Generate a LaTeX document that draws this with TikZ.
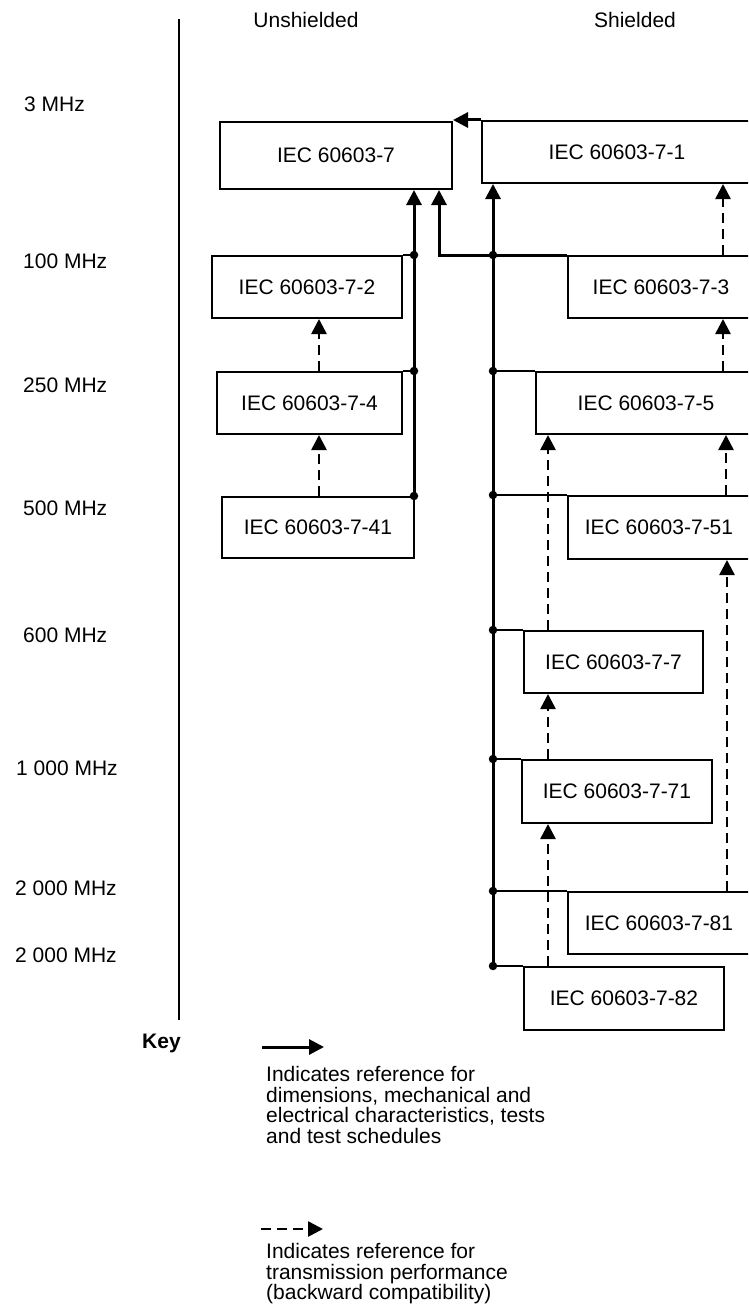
\documentclass[tikz,border=0pt]{standalone}
\usepackage{fontspec}
\setmainfont{Liberation Sans}
\usetikzlibrary{arrows.meta}
\begin{document}
\begin{tikzpicture}[x=1pt,y=-1pt,
  box/.style={draw, line width=2pt, inner sep=0pt, font=\fontsize{21}{24}\selectfont},
  lbl/.style={inner sep=0pt, font=\fontsize{21}{24}\selectfont, anchor=west},
  keytxt/.style={inner sep=0pt, font=\fontsize{21}{20.6}\selectfont, anchor=north west, align=left},
  sarr/.style={line width=3pt, -{Triangle[length=15pt,width=15pt]}},
  thin/.style={line width=2pt},
  darr/.style={line width=2.6pt, dash pattern=on 10pt off 6pt, -{Triangle[length=15pt,width=15pt]}},
  dot/.style={circle, fill, inner sep=0pt, minimum size=8.5pt},
]
\useasboundingbox (0,0) rectangle (748,1308);
\clip (0,0) rectangle (748,1308);

% axis
\coordinate (axtop) at (179,19);
\coordinate (axbot) at (179,1020);
\draw[line width=2pt] (axtop) -- (axbot);

% headers
\node[inner sep=0pt, font=\fontsize{21}{24}\selectfont] (hu) at (306,20) {Unshielded};
\node[inner sep=0pt, font=\fontsize{21}{24}\selectfont] (hs) at (635,20) {Shielded};

% frequency labels
\node[lbl] (f1) at (24,104) {3 MHz};
\node[lbl] (f2) at (23,261) {100 MHz};
\node[lbl] (f3) at (23,385) {250 MHz};
\node[lbl] (f4) at (23,508) {500 MHz};
\node[lbl] (f5) at (23,635) {600 MHz};
\node[lbl] (f6) at (16,768) {1 000 MHz};
\node[lbl] (f7) at (15,888) {2 000 MHz};
\node[lbl] (f8) at (15,955) {2 000 MHz};

% boxes
\node[box, minimum width=232pt, minimum height=67pt] (b7) at (336,155.5) {IEC 60603-7};
\node[box, minimum width=270pt, minimum height=62pt] (b71) at (617,152) {IEC 60603-7-1};
\node[box, minimum width=190pt, minimum height=62pt] (b72) at (307,287) {IEC 60603-7-2};
\node[box, minimum width=186pt, minimum height=62pt] (b73) at (661,287) {IEC 60603-7-3};
\node[box, minimum width=185pt, minimum height=62pt] (b74) at (309.5,403) {IEC 60603-7-4};
\node[box, minimum width=220pt, minimum height=62pt] (b75) at (646,403) {IEC 60603-7-5};
\node[box, minimum width=192pt, minimum height=61pt] (b741) at (318,527.5) {IEC 60603-7-41};
\node[box, minimum width=182pt, minimum height=63pt] (b751) at (659,527.5) {IEC 60603-7-51};
\node[box, minimum width=179pt, minimum height=62pt] (b77) at (613.5,662) {IEC 60603-7-7};
\node[box, minimum width=190pt, minimum height=63pt] (b771) at (617,791.5) {IEC 60603-7-71};
\node[box, minimum width=182pt, minimum height=62pt] (b781) at (659,923) {IEC 60603-7-81};
\node[box, minimum width=200pt, minimum height=63pt] (b782) at (624,998.5) {IEC 60603-7-82};

% column coordinates
\coordinate (xu) at (414,0);
\coordinate (xm) at (439,0);
\coordinate (xs) at (493,0);
\coordinate (xl) at (319,0);
\coordinate (xc) at (548,0);
\coordinate (xr1) at (723,0);
\coordinate (xr2) at (726,0);
\coordinate (xr3) at (727,0);

% junctions
\coordinate (u1) at (b72.north -| xu);
\coordinate (u2) at (b74.north -| xu);
\coordinate (u3) at (b741.north -| xu);
\coordinate (s1) at (b73.north -| xs);
\coordinate (s2) at (b75.north -| xs);
\coordinate (s3) at (b751.north -| xs);
\coordinate (s4) at (b77.north -| xs);
\coordinate (s5) at (b771.north -| xs);
\coordinate (s6) at (b781.north -| xs);
\coordinate (s7) at (b782.north -| xs);

% 7-1 -> 7
\draw[sarr] (b71.north west) -- (b71.north west -| b7.east);
% unshielded bus
\draw[sarr] (u3) -- (b7.south -| xu);
\draw[thin] (b72.north east) -- (u1);
\draw[thin] (b74.north east) -- (u2);
% 7-3 line to 7
\draw[sarr] (b73.north west) -| (b7.south -| xm);
% shielded bus
\draw[sarr] (s7) -- (b71.south -| xs);
\draw[thin] (b75.north west) -- (s2);
\draw[thin] (b751.north west) -- (s3);
\draw[thin] (b77.north west) -- (s4);
\draw[thin] (b771.north west) -- (s5);
\draw[thin] (b781.north west) -- (s6);
\draw[thin] (b782.north west) -- (s7);

% dots
\foreach \p in {u1,u2,u3,s1,s2,s3,s4,s5,s6,s7} \node[dot] at (\p) {};

% dashed references
\draw[darr] (b73.north -| xr1) -- (b71.south -| xr1);
\draw[darr] (b75.north -| xr1) -- (b73.south -| xr1);
\draw[darr] (b751.north -| xr2) -- (b75.south -| xr2);
\draw[darr] (b781.north -| xr3) -- (b751.south -| xr3);
\draw[darr] (b74.north -| xl) -- (b72.south -| xl);
\draw[darr] (b741.north -| xl) -- (b74.south -| xl);
\draw[darr] (b77.north -| xc) -- (b75.south -| xc);
\draw[darr] (b771.north -| xc) -- (b77.south -| xc);
\draw[darr] (b782.north -| xc) -- (b771.south -| xc);

% key
\node[inner sep=0pt, anchor=base west, font=\fontsize{21}{24}\selectfont\bfseries] (key) at (142,1048) {Key};
\coordinate (k1a) at (262,1047);
\coordinate (k1b) at (324,1047);
\draw[sarr] (k1a) -- (k1b);
\node[keytxt] (kt1) at (266,1066) {Indicates reference for\\dimensions, mechanical and\\electrical characteristics, tests\\and test schedules};
\coordinate (k2a) at (261,1229);
\coordinate (k2b) at (323,1229);
\draw[darr] (k2a) -- (k2b);
\node[keytxt] (kt2) at (266,1243) {Indicates reference for\\transmission performance\\(backward compatibility)};
\end{tikzpicture}
\end{document}
